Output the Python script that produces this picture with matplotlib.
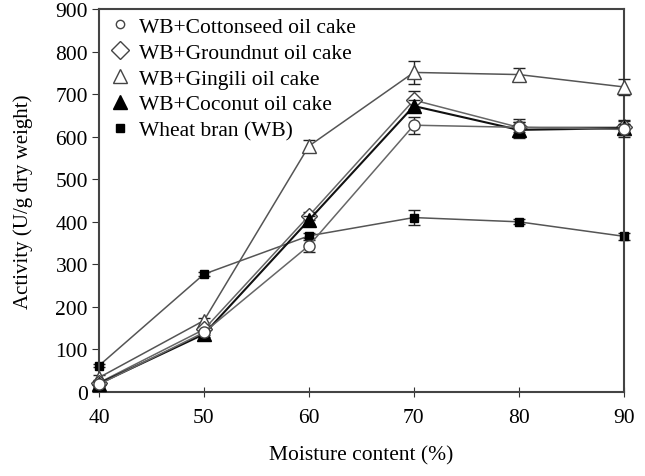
import matplotlib
matplotlib.use("Agg")
import matplotlib.pyplot as plt

plt.rcParams['font.family'] = ['Liberation Serif', 'DejaVu Serif']

moisture = [40, 50, 60, 70, 80, 90]

cottonseed = [18, 140, 344, 627, 622, 617]
cottonseed_err = [5, 6, 14, 20, 12, 12]
groundnut = [22, 147, 414, 686, 622, 622]
groundnut_err = [5, 6, 10, 22, 20, 15]
gingili = [34, 168, 578, 751, 746, 717]
gingili_err = [5, 6, 14, 28, 15, 18]
coconut = [20, 136, 404, 672, 616, 620]
coconut_err = [5, 6, 10, 15, 18, 20]
wheat_bran = [62, 277, 367, 410, 400, 366]
wheat_bran_err = [4, 5, 6, 17, 6, 8]

fig = plt.figure(figsize=(6.45, 4.77), dpi=100)
ax = fig.add_axes([0.1535, 0.176, 0.8135, 0.803])

ebkw = dict(capsize=4, elinewidth=1, capthick=1, ecolor='#222222', clip_on=False)

ax.errorbar(moisture, wheat_bran, yerr=wheat_bran_err, color='#555555', lw=1.1,
            marker='s', ms=6, mfc='black', mec='black', label='Wheat bran (WB)', zorder=2, **ebkw)
ax.errorbar(moisture, gingili, yerr=gingili_err, color='#555555', lw=1.1,
            marker='^', ms=10, mfc='white', mec='#444444', label='WB+Gingili oil cake', zorder=3, **ebkw)
ax.errorbar(moisture, groundnut, yerr=groundnut_err, color='#666666', lw=1.1,
            marker='D', ms=8, mfc='white', mec='#444444', label='WB+Groundnut oil cake', zorder=4, **ebkw)
ax.errorbar(moisture, coconut, yerr=coconut_err, color='#111111', lw=1.5,
            marker='^', ms=10, mfc='black', mec='black', label='WB+Coconut oil cake', zorder=5, **ebkw)
ax.errorbar(moisture, cottonseed, yerr=cottonseed_err, color='#666666', lw=1.1,
            marker='o', ms=8, mfc='white', mec='#444444', label='WB+Cottonseed oil cake', zorder=6, **ebkw)

ax.set_xlim(40, 90)
ax.set_ylim(0, 900)
ax.set_xticks(moisture)
ax.set_yticks(range(0, 901, 100))
ax.tick_params(axis='x', direction='inout', length=7, labelsize=15.5, pad=8, color='#333333')
ax.tick_params(axis='y', direction='out', length=5, labelsize=15.5, pad=3, color='#333333')
for s in ax.spines.values():
    s.set_color('#444444')
    s.set_linewidth(1.5)

ax.set_xlabel('Moisture content (%)', fontsize=15.5, labelpad=13)
ax.set_ylabel('Activity (U/g dry weight)', fontsize=15, labelpad=16)

h, l = ax.get_legend_handles_labels()
order = ['WB+Cottonseed oil cake', 'WB+Groundnut oil cake', 'WB+Gingili oil cake',
         'WB+Coconut oil cake', 'Wheat bran (WB)']
leg_ms = {'o': 6, 'D': 9, '^': 10, 's': 6}
hs = []
for name in order:
    line = h[l.index(name)][0]
    hs.append(plt.Line2D([], [], ls='none', marker=line.get_marker(), ms=leg_ms[line.get_marker()],
                         mfc=line.get_markerfacecolor(), mec=line.get_markeredgecolor()))
ax.legend(hs, order, loc='upper left', frameon=False, fontsize=15.5, handlelength=1.0,
          handletextpad=0.4, labelspacing=0.27, borderpad=0, borderaxespad=0,
          bbox_to_anchor=(0.019, 0.98))

fig.savefig('out.png', dpi=100)
